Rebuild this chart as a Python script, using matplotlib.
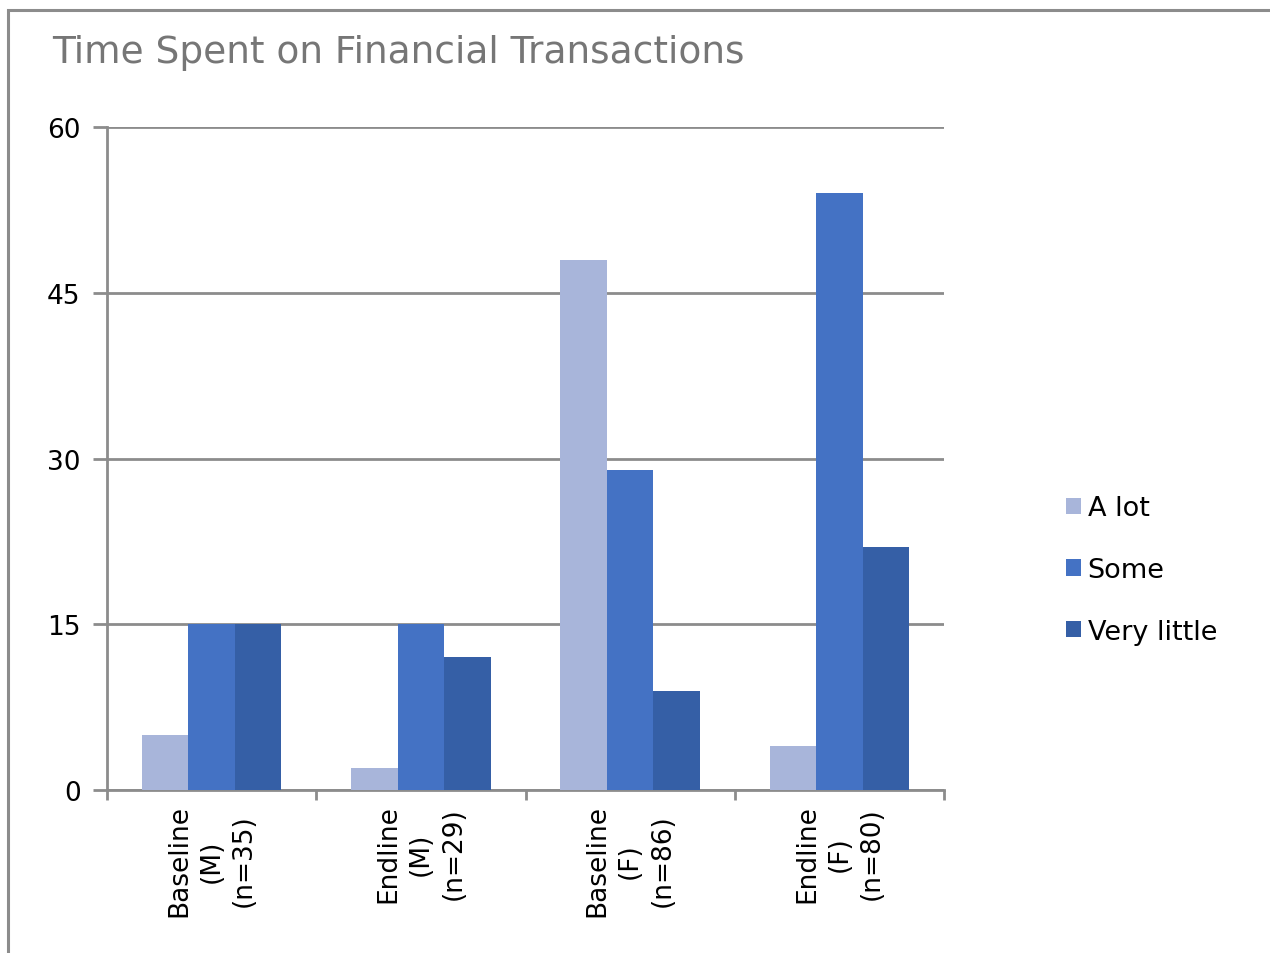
import numpy as np
import matplotlib.pyplot as plt
from matplotlib.patches import Rectangle

# chart data
groups = ['Baseline\n(M)\n(n=35)', 'Endline\n(M)\n(n=29)',
          'Baseline\n(F)\n(n=86)', 'Endline\n(F)\n(n=80)']
series = ['A lot', 'Some', 'Very little']
a_lot = [5, 2, 48, 4]
some = [15, 15, 29, 54]
very_little = [15, 12, 9, 22]
colors = ['#A8B5DA', '#4472C4', '#355FA6']
yticks = [0, 15, 30, 45, 60]

plt.rcParams['font.family'] = ['DejaVu Sans']

fig = plt.figure(figsize=(12.7, 9.54), dpi=100)
ax = fig.add_axes([107 / 1270, 1 - 791 / 954, (944 - 107) / 1270, (791 - 128) / 954])

# outer chart frame (clipped at right and bottom like the source)
fig.patches.append(Rectangle((8 / 1270, -0.05), 1.1, 1 - 11 / 954 + 0.05,
                             transform=fig.transFigure, fill=False,
                             edgecolor='#8c8c8c', linewidth=2.2))

x = np.arange(len(groups))
width = 0.222
for i, (vals, name) in enumerate(zip([a_lot, some, very_little], series)):
    ax.bar(x + (i - 1) * width, vals, width, color=colors[i], label=name,
           zorder=3)

ax.set_xlim(-0.5, len(groups) - 0.5)
ax.set_ylim(0, 60)
ax.set_yticks(yticks)
ax.set_yticklabels([str(v) for v in yticks], fontsize=19)
ax.yaxis.grid(True, color='#8c8c8c', linewidth=2, zorder=0)

# x ticks at the category boundaries, labels at centres
ax.set_xticks(np.arange(-0.5, len(groups), 1.0))
ax.set_xticklabels([])
ax.set_xticks(x, minor=True)
ax.set_xticklabels(groups, minor=True, rotation=90, fontsize=19,
                   ha='center', va='top', multialignment='center',
                   linespacing=1.32)
ax.tick_params(axis='x', which='minor', length=0, pad=10)
ax.tick_params(axis='x', which='major', length=7, width=2, color='#8c8c8c')
ax.tick_params(axis='y', length=10, width=2, color='#8c8c8c', pad=9)

for s in ['top', 'right']:
    ax.spines[s].set_visible(False)
for s in ['left', 'bottom']:
    ax.spines[s].set_color('#8c8c8c')
    ax.spines[s].set_linewidth(2)

fig.text(52 / 1270, 1 - 53 / 954, 'Time Spent on Financial Transactions',
         fontsize=27, color='#767676', va='center', ha='left')

ax.legend(loc='center left', bbox_to_anchor=(1066 / 1270, 1 - 571 / 954),
          bbox_transform=fig.transFigure, frameon=False, fontsize=19.5,
          handlelength=0.55, handleheight=0.55, handletextpad=0.25,
          labelspacing=1.32, borderaxespad=0, borderpad=0)

fig.savefig('out.png', dpi=100)
